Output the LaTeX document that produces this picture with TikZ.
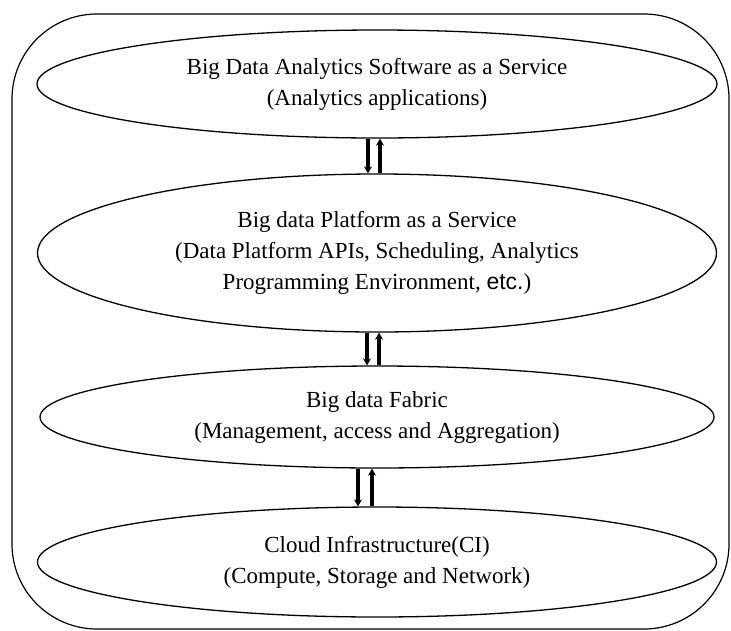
\documentclass[tikz,border=0pt]{standalone}
\usepackage{fontspec}
\setmainfont{Liberation Serif}
\newfontfamily\sansf{Liberation Sans}
\usetikzlibrary{shapes.geometric,arrows.meta}
\begin{document}
\begin{tikzpicture}[x=1pt,y=-1pt,
  layer/.style={draw, line width=1.3pt, ellipse, inner sep=0pt, align=center,
    font=\fontsize{23}{31}\selectfont},
  frame/.style={draw, line width=1.2pt, rounded corners=85pt, inner sep=0pt},
  flow/.style={line width=3.2pt, -{Stealth[length=7pt,width=8pt]}}]
\useasboundingbox (0,0) rectangle (731,630);
\node[frame, minimum width=717pt, minimum height=615pt] (outer) at (370.5,321.5) {};
\node[layer, minimum width=680pt, minimum height=108pt] (e1) at (377,84)
  {Big Data Analytics Software as a Service\\(Analytics applications)};
\node[layer, minimum width=679pt, minimum height=158pt] (e2) at (377,253)
  {Big data Platform as a Service\\(Data Platform APIs, Scheduling, Analytics\\Programming Environment, {\sansf etc.})};
\node[layer, minimum width=674pt, minimum height=102pt] (e3) at (377,417)
  {Big data Fabric\\(Management, access and Aggregation)};
\node[layer, minimum width=679pt, minimum height=110pt] (e4) at (377,562)
  {Cloud Infrastructure(CI)\\(Compute, Storage and Network)};
\draw[flow] ([xshift=-9pt]e1.south) -- ([xshift=-9pt]e2.north);
\draw[flow] ([xshift=3pt]e2.north) -- ([xshift=3pt]e1.south);
\draw[flow] ([xshift=-10pt]e2.south) -- ([xshift=-10pt]e3.north);
\draw[flow] ([xshift=2pt]e3.north) -- ([xshift=2pt]e2.south);
\draw[flow] ([xshift=-19pt]e3.south) -- ([xshift=-19pt]e4.north);
\draw[flow] ([xshift=-5pt]e4.north) -- ([xshift=-5pt]e3.south);
\end{tikzpicture}
\end{document}
